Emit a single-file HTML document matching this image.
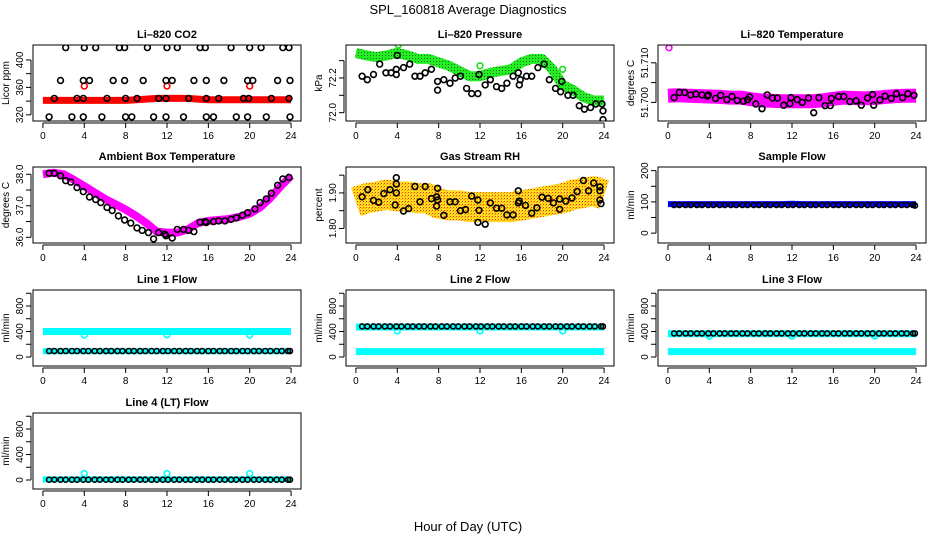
<!DOCTYPE html>
<html><head><meta charset="utf-8">
<style>
html,body{margin:0;padding:0;background:#fff;}
svg{display:block;font-family:"Liberation Sans",sans-serif;}
</style></head>
<body>
<svg id="chart" width="936" height="540" viewBox="0 0 936 540" xmlns="http://www.w3.org/2000/svg">
<defs>
<pattern id="greenStip" width="3" height="3" patternUnits="userSpaceOnUse"><rect width="3" height="3" fill="#22ee22"/><rect x="1" y="1" width="1" height="1" fill="#226622"/></pattern>
<pattern id="rhStip" width="3" height="3" patternUnits="userSpaceOnUse"><rect width="3" height="3" fill="#ffdd22"/><rect x="0" y="0" width="1" height="1" fill="#ee3300"/><rect x="2" y="1" width="1" height="1" fill="#ff9900"/></pattern>
</defs>
<text x="468" y="14" text-anchor="middle" font-size="13">SPL_160818  Average Diagnostics</text>
<text x="468" y="531" text-anchor="middle" font-size="13">Hour of Day (UTC)</text>
</svg>
<script>
// ---------- data ----------
const HOURS = [0,1,2,3,4,5,6,7,8,9,10,11,12,13,14,15,16,17,18,19,20,21,22,23,24];
const X_TICKS = [0,4,8,12,16,20,24];

// CO2
const co2Band = [341,341,341,341,341,341,341,341,341,342,343,344,344,344,344,343,342,342,342,342,342,342,342,342,342];
const co2RedX = [4,12,20];
const co2RedY = [362,362,362];
const co2BlackX = [2.2,4,5.1,7.4,7.9,10.1,12,13,15.2,15.7,18.2,20,21.1,23.2,23.8, 1.7,3.9,4.5,6.8,7.9,9.7,11.9,12.5,14.6,15.8,17.5,19.8,20.3,22.7,23.9, 1.1,3.3,3.9,6.2,8,9.1,11.2,11.9,14.1,15.8,17,19.4,19.9,22.1,23.8, 0.6,2.8,3.9,5.7,8,8.6,10.7,11.9,13.6,15.8,16.5,18.7,19.8,21.6,23.9];
const co2BlackY = [418,418,418,418,418,418,418,418,418,418,418,418,418,418,418, 370,370,370,370,370,370,370,370,370,370,370,370,370,370,370, 344,344,344,344,344,344,344,344,344,344,344,344,344,344,344, 317,317,317,317,317,317,317,317,317,317,317,317,317,317,317];

// Pressure
const presBand = [72.344,72.33,72.32,72.33,72.345,72.33,72.31,72.31,72.29,72.27,72.24,72.21,72.21,72.23,72.24,72.25,72.29,72.31,72.31,72.25,72.16,72.13,72.09,72.07,72.07];
const presGreenX = [4.1,12,20];
const presGreenY = [72.39,72.27,72.25];
const presBlackX = [0.6,1.1,1.7,2.3,2.9,3.4,3.9,3.9,4,4.6,5.2,5.7,6.2,6.7,7.3,7.9,7.9,8.5,9.1,9.6,10.1,10.7,11.2,11.8,11.9,12.5,13,13.6,14.1,14.6,15.2,15.7,15.8,15.9,16.5,17,17.6,18.2,18.7,19.3,19.8,19.9,20.5,21,21.6,22.1,22.7,23.2,23.8,23.9,23.9];
const presBlackY = [72.21,72.19,72.22,72.28,72.23,72.23,72.25,72.22,72.33,72.26,72.28,72.21,72.21,72.23,72.25,72.18,72.13,72.19,72.17,72.2,72.21,72.14,72.11,72.11,72.22,72.16,72.19,72.15,72.14,72.17,72.21,72.23,72.16,72.19,72.21,72.21,72.26,72.28,72.19,72.14,72.12,72.18,72.1,72.1,72.04,72.02,72.03,72.05,72.05,72.01,71.96];

// Li-820 temperature
const tempBand = [51.7017,51.7018,51.7017,51.7016,51.7015,51.7014,51.7012,51.7012,51.7008,51.7005,51.7004,51.7003,51.7003,51.7003,51.7003,51.7005,51.7009,51.7012,51.7011,51.7010,51.7011,51.7014,51.7016,51.7017,51.7017];
const tempMagX = [0.1];
const tempMagY = [51.7138];
const tempBlackX = [0.6,1.1,1.6,2.2,2.7,3.3,3.8,3.9,4.6,5.1,5.7,6.2,6.7,7.3,7.7,7.9,8.5,9.1,9.6,10.1,10.6,11.2,11.8,11.9,12.5,13,13.6,14.1,14.6,15.2,15.7,15.8,16.5,17,17.6,18.2,18.7,19.3,19.8,19.9,20.5,21,21.6,22.1,22.7,23.2,23.8];
const tempBlackY = [51.7012,51.7025,51.7025,51.7019,51.7021,51.7019,51.7016,51.7019,51.7010,51.7018,51.7007,51.7015,51.7005,51.7003,51.7007,51.7014,51.6996,51.6984,51.7019,51.7011,51.7011,51.6993,51.6997,51.7012,51.7007,51.7000,51.7011,51.6974,51.7012,51.6992,51.6992,51.7010,51.7015,51.7015,51.7002,51.7004,51.6993,51.7011,51.7020,51.6993,51.7006,51.7016,51.7010,51.7022,51.7012,51.7022,51.7018];

// Ambient box temperature
const ambBand = [38.0,38.05,38.0,37.82,37.62,37.42,37.22,37.05,36.88,36.68,36.45,36.18,36.15,36.15,36.25,36.45,36.52,36.55,36.58,36.65,36.75,36.95,37.25,37.62,37.95];
const ambBlackX = [0.6,1.1,1.7,2.2,2.7,3.3,3.9,4.5,5.1,5.6,6.2,6.7,7.3,7.9,8.5,9.1,9.6,10.2,10.7,11.2,11.8,11.9,12.5,13,13.6,14.1,14.6,15.2,15.7,15.8,16.5,17,17.6,18.2,18.7,19.3,19.8,20.5,21,21.6,22.1,22.7,23.2,23.8];
const ambBlackY = [38.03,38.03,37.95,37.8,37.75,37.58,37.45,37.28,37.2,37.1,36.95,36.85,36.68,36.55,36.45,36.3,36.22,36.15,35.95,36.15,36.1,36.05,35.98,36.25,36.25,36.22,36.18,36.48,36.5,36.47,36.5,36.52,36.52,36.57,36.62,36.7,36.78,36.9,37.1,37.22,37.4,37.65,37.85,37.9];

// Gas stream RH
const rhBand = [1.875,1.885,1.89,1.895,1.89,1.89,1.885,1.885,1.87,1.865,1.865,1.86,1.86,1.86,1.86,1.86,1.865,1.87,1.875,1.88,1.885,1.895,1.9,1.905,1.895];
const rhBlackX = [0.6,1.15,1.7,2.2,2.7,3.3,3.8,3.9,3.9,3.9,4.6,5.1,5.7,6.2,6.7,7.3,7.8,7.9,7.8,7.9,8.5,9.1,9.6,10.1,10.6,11.2,11.8,11.9,11.8,12.5,13,13.6,14.1,14.6,15.2,15.7,15.7,15.8,16.4,17,17.5,18,18.6,19.1,19.7,19.7,20.3,20.9,21.4,22,22.5,23,23.6,23.6,23.7,23.6];
const rhBlackY = [1.889,1.909,1.879,1.874,1.898,1.909,1.866,1.925,1.943,1.9,1.849,1.856,1.918,1.875,1.918,1.884,1.889,1.88,1.863,1.913,1.837,1.875,1.875,1.85,1.853,1.891,1.88,1.851,1.817,1.812,1.872,1.857,1.857,1.838,1.838,1.906,1.872,1.877,1.865,1.843,1.858,1.888,1.885,1.872,1.854,1.883,1.877,1.886,1.904,1.935,1.906,1.928,1.917,1.906,1.87,1.88];

// Flow panels (shared black-marker hours)
const flowHours = [0.6,1.1,1.7,2.2,2.8,3.3,3.9,4.4,5.0,5.5,6.1,6.6,7.2,7.7,8.3,8.8,9.4,9.9,10.5,11.0,11.6,12.1,12.7,13.2,13.8,14.3,14.9,15.4,16.0,16.5,17.1,17.6,18.2,18.7,19.3,19.8,20.4,20.9,21.5,22.0,22.6,23.1,23.7,23.9];
const sampleBand = [93,93,93,93,93,93,93,93,93,93,93,93,94,93,93,93,93,93,93,93,93,93,93,93,93];
const sampleBlack = [90,90,90,90,90,90,90,90,90,90,90,90,90,90,90,90,90,90,90,90,90,90,90,90,90,90,90,90,90,90,90,90,90,90,90,90,90,90,90,90,90,90,90,88];
const line1Upper = [400,400,400,400,400,400,400,400,400,400,400,400,400,400,400,400,400,400,400,400,400,400,400,400,400];
const line1Lower = [90,90,90,90,90,90,90,90,90,90,90,90,90,90,90,90,90,90,90,90,90,90,90,90,90];
const line1Black = [95,95,95,95,95,95,95,95,95,95,95,95,95,95,95,95,95,95,95,95,95,95,95,95,95,95,95,95,95,95,95,95,95,95,95,95,95,95,95,95,95,95,95,95];
const line1OutX = [4,12,20];
const line1OutY = [345,350,345];
const line2Upper = [470,470,470,470,470,470,470,470,470,470,470,470,470,470,470,470,470,470,470,470,470,470,470,470,470];
const line2Lower = [85,85,85,85,85,85,85,85,85,85,85,85,85,85,85,85,85,85,85,85,85,85,85,85,85];
const line2Black = [480,480,480,480,480,480,480,480,480,480,480,480,480,480,480,480,480,480,480,480,480,480,480,480,480,480,480,480,480,480,480,480,480,480,480,480,480,480,480,480,480,480,480,480];
const line2OutX = [4,12,20];
const line2OutY = [410,410,410];
const line3Upper = [365,365,365,365,365,365,365,365,365,365,365,365,365,365,365,365,365,365,365,365,365,365,365,365,365];
const line3Lower = [85,85,85,85,85,85,85,85,85,85,85,85,85,85,85,85,85,85,85,85,85,85,85,85,85];
const line3Black = [370,370,370,370,370,370,370,370,370,370,370,370,370,370,370,370,370,370,370,370,370,370,370,370,370,370,370,370,370,370,370,370,370,370,370,370,370,370,370,370,370,370,370,370];
const line3OutX = [4,12,20];
const line3OutY = [330,330,330];
const line4Band = [10,10,10,10,10,10,10,10,10,10,10,10,10,10,10,10,10,10,10,10,10,10,10,10,10];
const line4Black = [5,5,5,5,5,5,5,5,5,5,5,5,5,5,5,5,5,5,5,5,5,5,5,5,5,5,5,5,5,5,5,5,5,5,5,5,5,5,5,5,5,5,5,5];
const line4OutX = [4,12,20];
const line4OutY = [100,100,100];

// ---------- drawing ----------
const NS = "http://www.w3.org/2000/svg";
const svg = document.getElementById('chart');
const COLS = [33,346,658], ROWS = [45,167,290,413], PW = 268, PH = 76;

function el(tag, parent){ const e = document.createElementNS(NS, tag); parent.appendChild(e); return e; }

function makePanel(col,row,yMin,yMax,title,ylab,yTicks,yLabels,name){
  const left = COLS[col], top = ROWS[row];
  const g = el('g', svg);
  
  
  const p = {
    g: g,
    x: h => left + (h + 0.96) / 25.92 * PW,
    y: v => top + PH - (v - yMin) / (yMax - yMin) * PH
  };
  const clip = el('clipPath', g);
  clip.setAttribute('id', 'clip-' + name);
  const cr = el('rect', clip);
  cr.setAttribute('x', left); cr.setAttribute('y', top); cr.setAttribute('width', PW); cr.setAttribute('height', PH);
  p.data = el('g', g);
  p.data.setAttribute('clip-path', 'url(#clip-' + name + ')');
  
  
  const box = el('rect', g);
  box.setAttribute('x', left); box.setAttribute('y', top); box.setAttribute('width', PW); box.setAttribute('height', PH);
  box.setAttribute('fill', 'none'); box.setAttribute('stroke', '#000'); box.setAttribute('stroke-width', '1');
  
  
  const t = el('text', g);
  t.setAttribute('x', left + PW/2); t.setAttribute('y', top - 7);
  t.setAttribute('text-anchor', 'middle'); t.setAttribute('font-size', '11'); t.setAttribute('font-weight', 'bold');
  t.textContent = title;
  
  
  const yl = el('text', g);
  yl.setAttribute('transform', 'translate(' + (left - 24) + ',' + (top + PH/2) + ') rotate(-90)');
  yl.setAttribute('text-anchor', 'middle'); yl.setAttribute('font-size', '10');
  yl.textContent = ylab;
  
  
  X_TICKS.forEach(h => {
    const tk = el('line', g);
    tk.setAttribute('x1', p.x(h)); tk.setAttribute('x2', p.x(h));
    tk.setAttribute('y1', top + PH + 2); tk.setAttribute('y2', top + PH + 7);
    tk.setAttribute('stroke', '#000');
    
    
    const lb = el('text', g);
    lb.setAttribute('x', p.x(h)); lb.setAttribute('y', top + PH + 18);
    lb.setAttribute('text-anchor', 'middle'); lb.setAttribute('font-size', '10');
    lb.textContent = h;
    
    
  });
  const xa = el('line', g);
  xa.setAttribute('x1', p.x(0)); xa.setAttribute('x2', p.x(24));
  xa.setAttribute('y1', top + PH + 2); xa.setAttribute('y2', top + PH + 2);
  xa.setAttribute('stroke', '#000');
  
  
  const ya = el('line', g);
  ya.setAttribute('x1', left - 2); ya.setAttribute('x2', left - 2);
  ya.setAttribute('y1', p.y(yTicks[0])); ya.setAttribute('y2', p.y(yTicks[yTicks.length-1]));
  ya.setAttribute('stroke', '#000');
  
  
  yTicks.forEach((v,i) => {
    const tk = el('line', g);
    tk.setAttribute('x1', left - 2); tk.setAttribute('x2', left - 7);
    tk.setAttribute('y1', p.y(v)); tk.setAttribute('y2', p.y(v));
    tk.setAttribute('stroke', '#000');
    
    
    if (yLabels[i]) {
      const lb = el('text', g);
      lb.setAttribute('transform', 'translate(' + (left - 10) + ',' + p.y(v) + ') rotate(-90)');
      lb.setAttribute('text-anchor', 'middle'); lb.setAttribute('font-size', '10');
      lb.textContent = yLabels[i];
      
      
    }
  });
  return p;
}

function band(p, xs, ys, stroke, width, name){
  const pl = el('polyline', p.data);
  pl.setAttribute('points', xs.map((h,i) => p.x(h).toFixed(1) + ',' + p.y(ys[i]).toFixed(1)).join(' '));
  pl.setAttribute('fill', 'none'); pl.setAttribute('stroke', stroke);
  pl.setAttribute('stroke-width', width); pl.setAttribute('stroke-linejoin', 'round');
  
  
}
function pts(p, xs, ys, color, name, r){
  const g = el('g', p.data);
  
  
  xs.forEach((h,i) => {
    const c = el('circle', g);
    c.setAttribute('cx', p.x(h).toFixed(1)); c.setAttribute('cy', p.y(ys[i]).toFixed(1));
    c.setAttribute('r', r || 2.9); c.setAttribute('fill', 'none');
    c.setAttribute('stroke', color); c.setAttribute('stroke-width', '1.6');
    
    
  });
}

// Panel 1: CO2
let p = makePanel(0,0,311,421.8,'Li\u2013820 CO2','Licor ppm',[320,340,360,380,400],['320','','360','','400'],'co2');
band(p, HOURS, co2Band, '#ff0000', 7, 'co2-red-band');
pts(p, co2RedX, co2RedY, '#ff0000', 'co2-red-outliers');
pts(p, co2BlackX, co2BlackY, '#000', 'co2-black-points');

// Panel 2: Pressure
p = makePanel(1,0,71.952,72.39,'Li\u2013820 Pressure','kPa',[72.0,72.1,72.2,72.3],['72.0','','72.2',''],'pressure');
band(p, HOURS, presBand, 'url(#greenStip)', 10, 'pressure-green-band');
pts(p, presGreenX, presGreenY, '#22dd22', 'pressure-green-outliers');
pts(p, presBlackX, presBlackY, '#000', 'pressure-black-points');

// Panel 3: Li-820 temperature
p = makePanel(2,0,51.6953,51.7145,'Li\u2013820 Temperature','degrees C',[51.700,51.705,51.710],['51.700','','51.710'],'li820-temp');
band(p, HOURS, tempBand, '#ff00ff', 14, 'li820-temp-magenta-band');
pts(p, tempMagX, tempMagY, '#ff00ff', 'li820-temp-magenta-outlier');
pts(p, tempBlackX, tempBlackY, '#000', 'li820-temp-black-points');

// Panel 4: Ambient
p = makePanel(0,1,35.82,38.23,'Ambient Box Temperature','degrees C',[36.0,36.5,37.0,37.5,38.0],['36.0','','37.0','','38.0'],'ambient-temp');
band(p, HOURS, ambBand, '#ff00ff', 8, 'ambient-temp-magenta-band');
pts(p, ambBlackX, ambBlackY, '#000', 'ambient-temp-black-points');

// Panel 5: RH
p = makePanel(1,1,1.759,1.973,'Gas Stream RH','percent',[1.80,1.85,1.90,1.95],['1.80','','1.90',''],'rh');
band(p, HOURS, rhBand, 'url(#rhStip)', 30, 'rh-orange-band');
pts(p, rhBlackX, rhBlackY, '#000', 'rh-black-points');

// Panel 6: Sample flow
p = makePanel(2,1,-31.6,211.7,'Sample Flow','ml/min',[0,50,100,150,200],['0','','100','','200'],'sample-flow');
band(p, HOURS, sampleBand, '#0000ff', 6, 'sample-flow-blue-band');
pts(p, flowHours, sampleBlack, '#000', 'sample-flow-black-points', 2.5);

const FT = [0,200,400,600,800,1000], FL = ['0','','400','','800',''];
// Panel 7: Line 1
p = makePanel(0,2,-141,1051,'Line 1 Flow','ml/min',FT,FL,'line1-flow');
band(p, HOURS, line1Upper, '#00ffff', 7, 'line1-cyan-upper-band');
band(p, HOURS, line1Lower, '#00ffff', 6, 'line1-cyan-lower-band');
pts(p, line1OutX, line1OutY, '#00ffff', 'line1-cyan-outliers');
pts(p, flowHours, line1Black, '#000', 'line1-black-points', 2.5);

// Panel 8: Line 2
p = makePanel(1,2,-141,1051,'Line 2 Flow','ml/min',FT,FL,'line2-flow');
band(p, HOURS, line2Upper, '#00ffff', 7, 'line2-cyan-upper-band');
band(p, HOURS, line2Lower, '#00ffff', 7, 'line2-cyan-lower-band');
pts(p, line2OutX, line2OutY, '#00ffff', 'line2-cyan-outliers');
pts(p, flowHours, line2Black, '#000', 'line2-black-points', 2.5);

// Panel 9: Line 3
p = makePanel(2,2,-141,1051,'Line 3 Flow','ml/min',FT,FL,'line3-flow');
band(p, HOURS, line3Upper, '#00ffff', 7, 'line3-cyan-upper-band');
band(p, HOURS, line3Lower, '#00ffff', 7, 'line3-cyan-lower-band');
pts(p, line3OutX, line3OutY, '#00ffff', 'line3-cyan-outliers');
pts(p, flowHours, line3Black, '#000', 'line3-black-points', 2.5);

// Panel 10: Line 4
p = makePanel(0,3,-141,1051,'Line 4 (LT) Flow','ml/min',FT,FL,'line4-flow');
band(p, HOURS, line4Band, '#00ffff', 6, 'line4-cyan-band');
pts(p, line4OutX, line4OutY, '#00ffff', 'line4-cyan-outliers');
pts(p, flowHours, line4Black, '#000', 'line4-black-points', 2.5);
</script>
</body></html>
